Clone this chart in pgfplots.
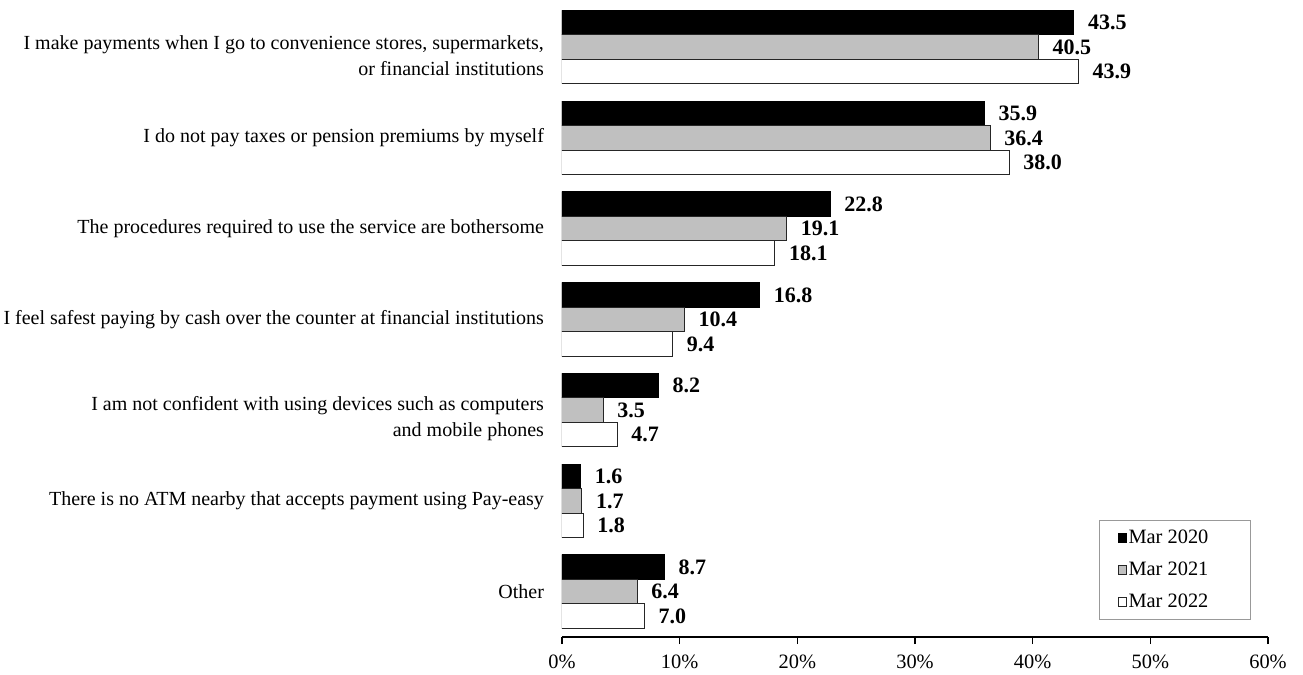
\documentclass[border=0pt]{standalone}
\usepackage{fontspec}
\setmainfont{Liberation Serif}
\usepackage{pgfplots}
\pgfplotsset{compat=1.18}
\definecolor{midgray}{RGB}{192,192,192}
\begin{document}
\begin{tikzpicture}
\path[use as bounding box] (0,0) rectangle (651.5pt,337.5pt);
\begin{axis}[
  at={(281pt,19pt)}, anchor=south west,
  scale only axis, width=353pt, height=317.6pt,
  xbar, bar width=12.25pt,
  xmin=0, xmax=60, ymin=-0.5, ymax=6.5, y dir=reverse,
  xtick={0,10,...,60},
  xticklabels={0\%,10\%,20\%,30\%,40\%,50\%,60\%},
  ytick={1,2,3,5,6},
  yticklabels={{I do not pay taxes or pension premiums by myself},
    {The procedures required to use the service are bothersome},
    {I feel safest paying by cash over the counter at financial institutions},
    {There is no ATM nearby that accepts payment using Pay-easy},
    {Other}},
  extra y ticks={0,4},
  extra y tick labels={{I make payments when I go to convenience stores, supermarkets,\\or financial institutions},
    {I am not confident with using devices such as computers\\and mobile phones}},
  extra y tick style={yticklabel style={yshift=-4pt}, tick style={draw=none}},
  yticklabel style={align=right, font=\fontsize{10}{13}\selectfont, xshift=-2pt},
  xticklabel style={font=\fontsize{10.2}{12}\selectfont, yshift=-2pt},
  axis x line*=bottom, axis y line*=left,
  x axis line style={-, black, line width=0.6pt},
  y axis line style={draw=none},
  ytick style={draw=none},
  xtick style={black, line width=0.6pt},
  xtick align=outside, major tick length=3.5pt,
  tick label style={/pgf/number format/assume math mode=true},
  nodes near coords,
  nodes near coords style={anchor=west, xshift=3.5pt, font=\fontsize{11}{13}\selectfont\bfseries,
    /pgf/number format/.cd, fixed, fixed zerofill, precision=1, assume math mode=true},
  legend image code/.code={\path (0pt,0pt); \draw[#1] (4pt,-2.25pt) rectangle (8pt,2.25pt);},
  legend style={at={(0.976,0.027)}, anchor=south east, draw=gray!80, line width=0.5pt,
    font=\fontsize{10.2}{12}\selectfont, row sep=3.75pt, inner xsep=5pt, inner ysep=2.5pt,
    nodes={inner xsep=1pt},
    cells={anchor=west}},
  legend cell align=left,
]
\addplot[fill=black, draw=black, line width=0.5pt, bar shift=12.25pt] table[x=v, y=c] {
c v
0 43.5
1 35.9
2 22.8
3 16.8
4 8.2
5 1.6
6 8.7
};
\addplot[fill=midgray, draw=black!85, line width=0.5pt, bar shift=0pt] table[x=v, y=c] {
c v
0 40.5
1 36.4
2 19.1
3 10.4
4 3.5
5 1.7
6 6.4
};
\addplot[fill=white, draw=black!85, line width=0.5pt, bar shift=-12.25pt] table[x=v, y=c] {
c v
0 43.9
1 38.0
2 18.1
3 9.4
4 4.7
5 1.8
6 7.0
};
\legend{\makebox[55pt][l]{Mar 2020}, \makebox[55pt][l]{Mar 2021}, \makebox[55pt][l]{Mar 2022}}
\end{axis}
\end{tikzpicture}
\end{document}
